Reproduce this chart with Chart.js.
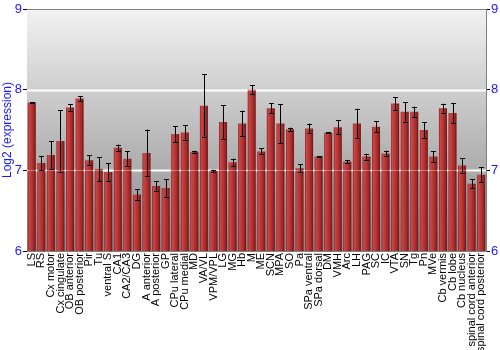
<!DOCTYPE html>
<html>
<head>
<meta charset="utf-8">
<script src="https://cdn.jsdelivr.net/npm/chart.js@4/dist/chart.umd.min.js"></script>
<style>
html,body{margin:0;padding:0;background:#fff;}
#wrap{width:500px;height:350px;}
</style>
</head>
<body>
<div id="wrap"><canvas id="c" width="500" height="350"></canvas></div>
<script>
const categories = ["LS","RS","Cx motor","Cx cingulate","OB anterior","OB posterior","Pir","Tu","ventral S","CA1","CA2/CA3","DG","A anterior","A posterior","GP","CPu lateral","CPu medial","MD","VA/VL","VPM/VPL","LG","MG","Hb","M","ME","SCN","MPA","SO","Pa","SPa ventral","SPa dorsal","DM","VMH","Arc","LH","PAG","SC","IC","VTA","SN","Tg","Pn","MVe","Cb vermis","Cb lobe","Cb nucleus","spinal cord anterior","spinal cord posterior"];
const values = [7.84,7.09,7.19,7.365,7.78,7.89,7.125,7.015,6.98,7.28,7.145,6.70,7.215,6.805,6.78,7.45,7.47,7.23,7.80,6.995,7.60,7.10,7.58,8.0,7.235,7.77,7.58,7.51,7.025,7.52,7.17,7.465,7.535,7.11,7.58,7.17,7.54,7.21,7.83,7.725,7.725,7.50,7.17,7.77,7.71,7.06,6.835,6.945];
const errors = [0.005,0.09,0.17,0.38,0.04,0.03,0.065,0.15,0.11,0.04,0.09,0.065,0.29,0.065,0.11,0.10,0.09,0.013,0.39,0.012,0.21,0.045,0.16,0.055,0.037,0.06,0.24,0.02,0.05,0.06,0.008,0.008,0.085,0.02,0.185,0.037,0.066,0.035,0.077,0.12,0.065,0.095,0.065,0.056,0.12,0.087,0.056,0.095];
const yTicks = [6,7,8,9];

const BLUE = '#1a1aff';
const BAR_PCT = 0.84;

function barGradient(ctx) {
  const chart = ctx.chart;
  const xs = chart.scales && chart.scales.x;
  if (!xs || ctx.dataIndex === undefined) return '#b03030';
  const cx = xs.getPixelForValue(ctx.dataIndex);
  const w = (xs.width / categories.length) * BAR_PCT;
  if (!isFinite(cx) || !isFinite(w) || w <= 0) return '#b03030';
  const g = chart.ctx.createLinearGradient(cx - w / 2, 0, cx + w / 2, 0);
  g.addColorStop(0, '#8a1a1a');
  g.addColorStop(0.15, '#c84848');
  g.addColorStop(0.35, '#c03c3c');
  g.addColorStop(0.75, '#a02828');
  g.addColorStop(1, '#6e1212');
  return g;
}

const bgPlugin = {
  id: 'bg',
  beforeDatasetsDraw(chart) {
    const {ctx, chartArea: a} = chart;
    ctx.save();
    const g = ctx.createLinearGradient(0, a.top, 0, a.bottom);
    g.addColorStop(0, '#f2f2f2');
    g.addColorStop(1, '#888888');
    ctx.fillStyle = g;
    ctx.fillRect(a.left, a.top, a.right - a.left, a.bottom - a.top);
    const ys = chart.scales.y;
    ctx.strokeStyle = '#ffffff';
    ctx.lineWidth = 2;
    [7, 8].forEach(v => {
      const y = Math.round(ys.getPixelForValue(v)) + 0.5;
      ctx.beginPath(); ctx.moveTo(a.left, y); ctx.lineTo(a.right, y); ctx.stroke();
    });
    ctx.restore();
  }
};

const overPlugin = {
  id: 'over',
  afterDatasetsDraw(chart) {
    const {ctx, chartArea: a} = chart;
    const xs = chart.scales.x, ys = chart.scales.y;
    ctx.save();
    ctx.strokeStyle = 'rgba(255,255,255,0.35)';
    ctx.lineWidth = 1;
    [7, 8].forEach(v => {
      const y = Math.round(ys.getPixelForValue(v)) + 0.5;
      ctx.beginPath(); ctx.moveTo(a.left, y); ctx.lineTo(a.right, y); ctx.stroke();
    });
    ctx.strokeStyle = '#000';
    ctx.lineWidth = 1;
    values.forEach((v, i) => {
      const x = Math.round(xs.getPixelForValue(i)) + 0.5;
      const y1 = ys.getPixelForValue(v + errors[i]);
      const y2 = ys.getPixelForValue(v - errors[i]);
      ctx.beginPath();
      ctx.moveTo(x, y1); ctx.lineTo(x, y2);
      ctx.moveTo(x - 2.5, Math.round(y1) + 0.5); ctx.lineTo(x + 2.5, Math.round(y1) + 0.5);
      ctx.moveTo(x - 2.5, Math.round(y2) + 0.5); ctx.lineTo(x + 2.5, Math.round(y2) + 0.5);
      ctx.stroke();
    });
    ctx.strokeStyle = '#808080';
    ctx.lineWidth = 1;
    ctx.beginPath();
    ctx.moveTo(a.left, Math.round(a.top) + 0.5);
    ctx.lineTo(a.right, Math.round(a.top) + 0.5);
    ctx.stroke();
    ctx.restore();
  }
};

new Chart(document.getElementById('c'), {
  type: 'bar',
  data: {
    labels: categories,
    datasets: [{
      data: values,
      backgroundColor: barGradient,
      borderWidth: 0,
      barPercentage: BAR_PCT,
      categoryPercentage: 1.0
    }]
  },
  options: {
    responsive: false,
    animation: false,
    devicePixelRatio: 1,
    layout: { padding: { top: 9, left: 0, right: 0, bottom: 0 } },
    plugins: { legend: { display: false }, tooltip: { enabled: false } },
    scales: {
      x: {
        offset: true,
        grid: { display: false, drawTicks: false },
        border: { display: true, color: '#808080' },
        ticks: {
          autoSkip: false,
          maxRotation: 90,
          minRotation: 90,
          padding: 2,
          color: '#000',
          font: { family: 'Liberation Sans, Arial, sans-serif', size: 11 }
        },
        afterFit(s) { s.height = 99; }
      },
      y: {
        position: 'left',
        min: 6, max: 9,
        afterBuildTicks(s) { s.ticks = yTicks.map(v => ({value: v})); },
        grid: { drawOnChartArea: false, tickColor: '#000', tickLength: 4 },
        border: { display: true, color: '#808080' },
        ticks: {
          color: BLUE, padding: 1,
          font: { family: 'Liberation Sans, Arial, sans-serif', size: 13 }
        },
        title: {
          display: true, text: 'Log2 (expression)', color: BLUE,
          font: { family: 'Liberation Sans, Arial, sans-serif', size: 12 },
          padding: { top: 0, bottom: 0 }
        },
        afterFit(s) { s.width = 27; }
      },
      y2: {
        position: 'right',
        min: 6, max: 9,
        afterBuildTicks(s) { s.ticks = yTicks.map(v => ({value: v})); },
        grid: { drawOnChartArea: false, tickColor: '#000', tickLength: 4 },
        border: { display: true, color: '#808080' },
        ticks: {
          color: BLUE, padding: 1,
          font: { family: 'Liberation Sans, Arial, sans-serif', size: 13 }
        },
        afterFit(s) { s.width = 14; }
      }
    }
  },
  plugins: [bgPlugin, overPlugin]
});
</script>
</body>
</html>
